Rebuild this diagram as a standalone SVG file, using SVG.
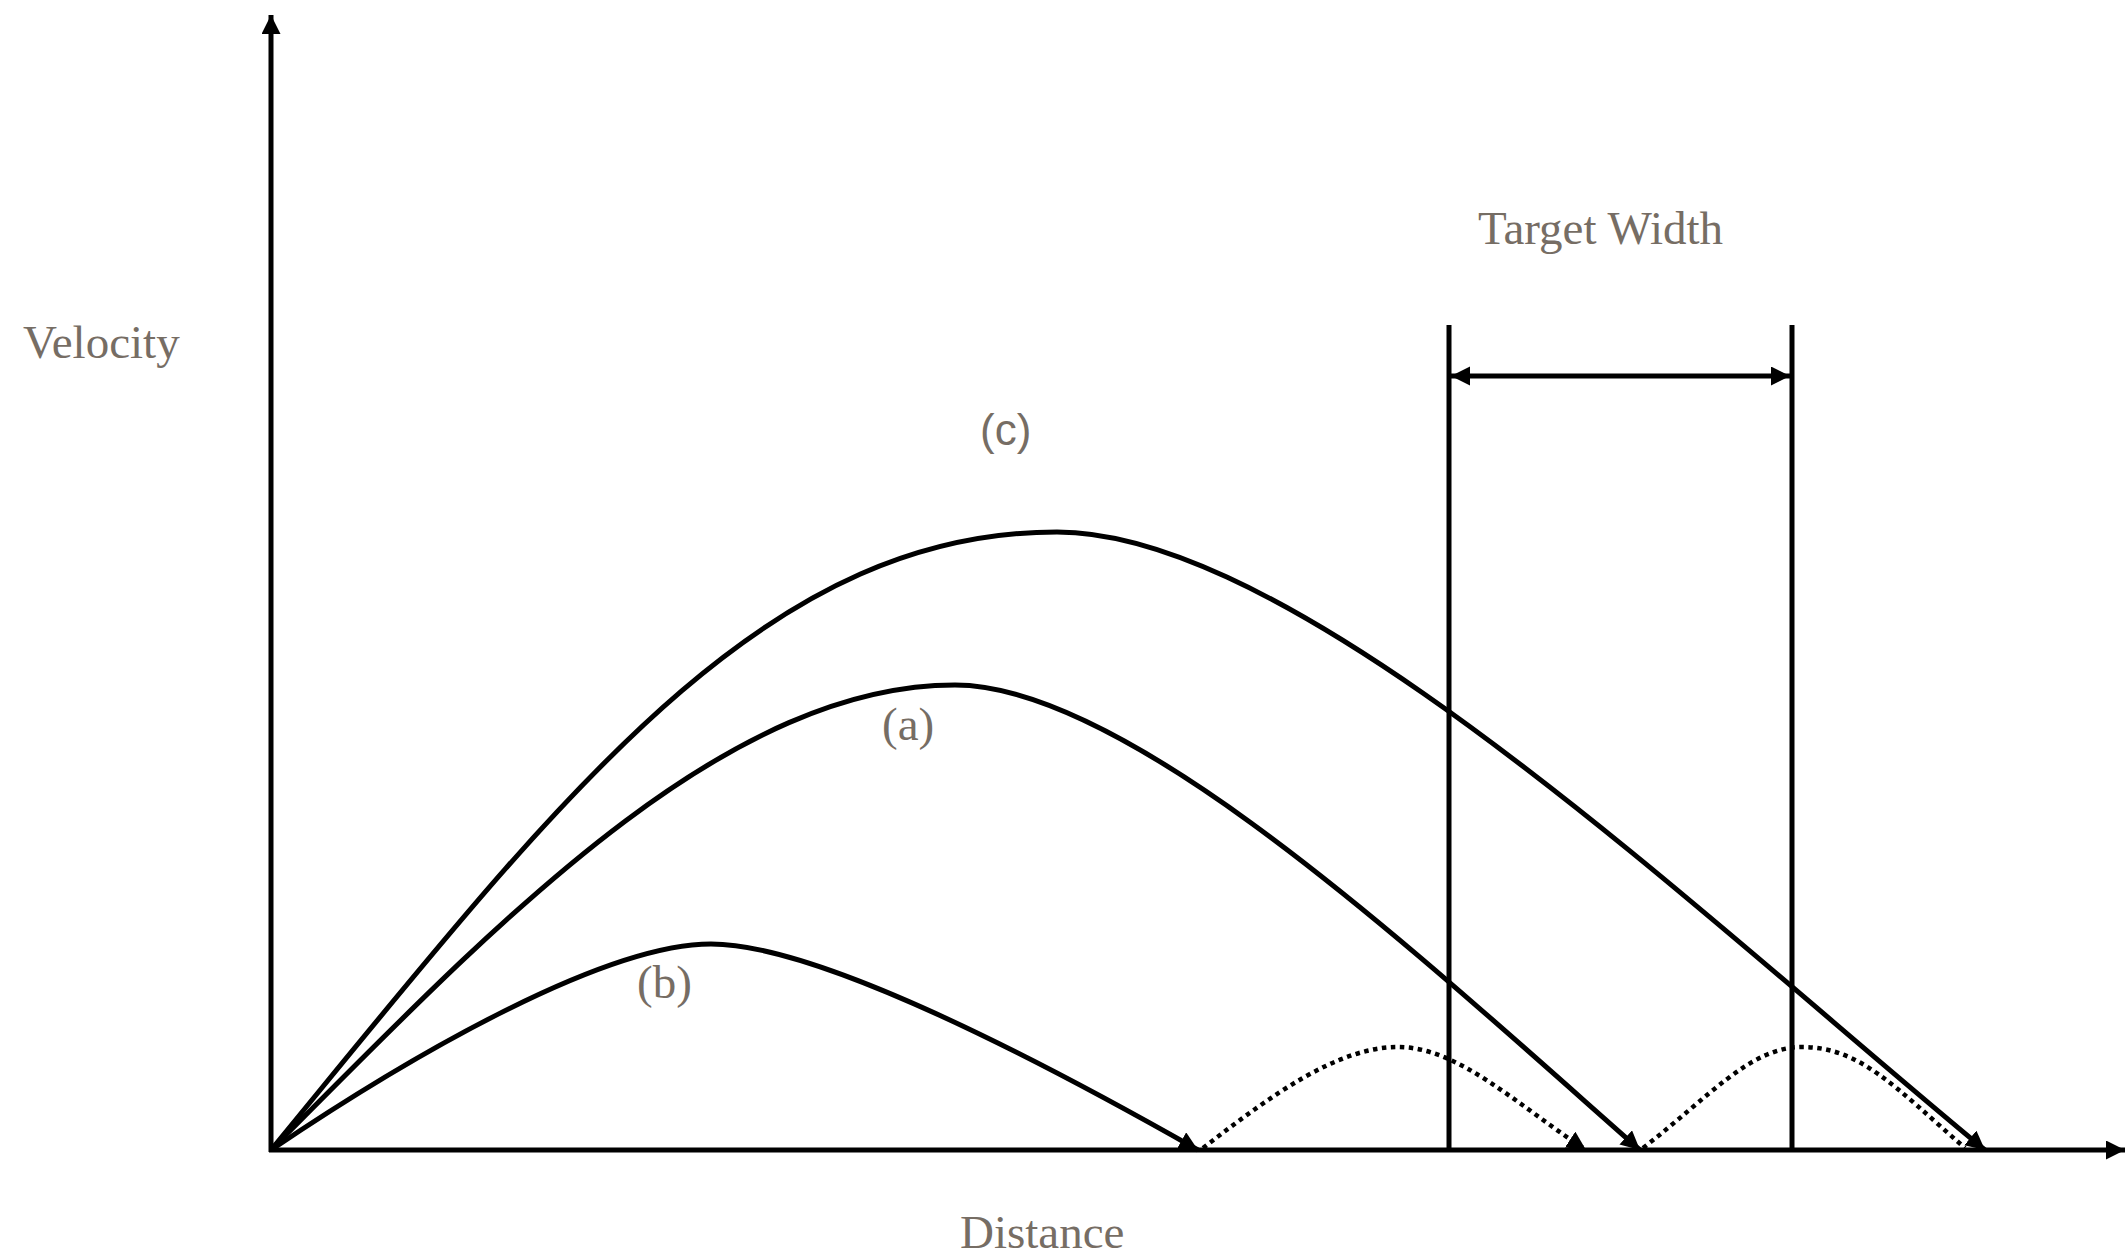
<svg xmlns="http://www.w3.org/2000/svg" width="2125" height="1255" viewBox="0 0 2125 1255">
<style>
.lbl{font-family:"Liberation Serif","Times New Roman",serif;font-size:47px;fill:#766d64}
.sans{font-family:"Liberation Sans",Arial,sans-serif;font-size:44px;fill:#766d64}
.ln{stroke:#000;stroke-width:5;fill:none}
.cv{stroke:#000;stroke-width:5;fill:none;marker-end:url(#ah)}
.dot{stroke:#000;stroke-width:4.5;fill:none;stroke-dasharray:4.5 4.5}
</style>
<defs>
<marker id="ah" markerUnits="userSpaceOnUse" markerWidth="22" markerHeight="20" refX="19" refY="9.5" orient="auto-start-reverse">
<path d="M0,0 L19,9.5 L0,19 z" fill="#000"/>
</marker>
</defs>
<rect width="2125" height="1255" fill="#fff"/>
<g id="labels">
<text class="lbl" x="23" y="358">Velocity</text>
<text class="lbl" x="1478" y="244">Target Width</text>
<text class="lbl" x="960" y="1248">Distance</text>
<text class="sans" x="980" y="445">(c)</text>
<text class="lbl" x="882" y="740">(a)</text>
<text class="lbl" x="637" y="998">(b)</text>
</g>
<g id="axes">
<line id="y-axis" class="ln" x1="271" y1="1152" x2="271" y2="15" marker-end="url(#ah)"/>
<line id="x-axis" class="ln" x1="269" y1="1150" x2="2125" y2="1150" marker-end="url(#ah)"/>
</g>
<g id="target">
<line class="ln" x1="1449" y1="325" x2="1449" y2="1150"/>
<line class="ln" x1="1792" y1="325" x2="1792" y2="1150"/>
<line class="ln" x1="1451" y1="376" x2="1790" y2="376" marker-start="url(#ah)" marker-end="url(#ah)"/>
</g>
<g id="connectors">
<path id="curve-c" class="cv" d="M271,1150 C560,798 760,532 1057,532 C1300,532 1700,915 1985,1150"/>
<path id="curve-a" class="cv" d="M271,1150 C490,930 720,685 955,685 C1130,685 1420,956 1640,1150"/>
<path id="curve-b" class="cv" d="M271,1150 C400,1063 600,944 711,944 C820,944 1050,1066 1198,1150"/>
<path id="bounce-1" class="dot" d="M1203,1148 C1273,1094 1338,1047 1398,1047 C1458,1047 1516,1104 1586,1150" marker-end="url(#ah)"/>
<path id="bounce-2" class="dot" d="M1643,1148 C1708,1098 1750,1047 1802,1047 C1860,1047 1895,1087 1965,1148"/>
</g>
</svg>
